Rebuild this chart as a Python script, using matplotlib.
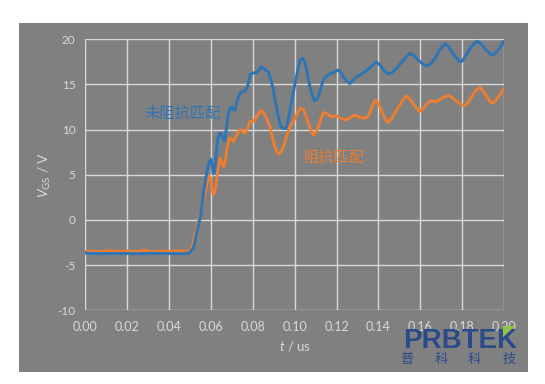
import matplotlib
matplotlib.use("Agg")
import matplotlib.pyplot as plt
from matplotlib.patches import Rectangle, Polygon

plt.rcParams['font.family'] = ['Lato', 'Noto Sans CJK SC', 'DejaVu Sans']
plt.rcParams['mathtext.fontset'] = 'custom'
plt.rcParams['mathtext.rm'] = 'Lato'
plt.rcParams['mathtext.it'] = 'Lato:italic'
plt.rcParams['axes.unicode_minus'] = False

# unmatched (blue) waveform, t in us, V_GS in V
t_blue = [0.0, 0.008, 0.016, 0.024, 0.032, 0.040, 0.046, 0.0495, 0.0505, 0.0516,
          0.0524, 0.0535, 0.0548, 0.0559, 0.0568, 0.058, 0.0592, 0.0600, 0.0606, 0.0611,
          0.0617, 0.0625, 0.0633, 0.0643, 0.0652, 0.0660, 0.0667, 0.0676, 0.0684, 0.0691,
          0.0700, 0.0707, 0.0715, 0.0725, 0.0739, 0.0750, 0.0763, 0.0775, 0.0790, 0.0805,
          0.0819, 0.0830, 0.0843, 0.0855, 0.0874, 0.0886, 0.0898, 0.0910, 0.0922, 0.0932,
          0.0940, 0.0959, 0.0968, 0.0978, 0.0990, 0.1002, 0.1014, 0.1026, 0.1039, 0.1047,
          0.1054, 0.1063, 0.1073, 0.1084, 0.1094, 0.1104, 0.1113, 0.1125, 0.1137, 0.1150,
          0.1169, 0.1185, 0.1208, 0.1220, 0.1232, 0.1248, 0.1264, 0.1280, 0.1296, 0.1315,
          0.1336, 0.1362, 0.1389, 0.1408, 0.1425, 0.1447, 0.1465, 0.1487, 0.1520, 0.1551,
          0.1570, 0.1591, 0.1610, 0.1631, 0.1650, 0.1670, 0.1695, 0.1718, 0.1735, 0.1750,
          0.1770, 0.1790, 0.1800, 0.1814, 0.1840, 0.1870, 0.1885, 0.1901, 0.1920, 0.1941,
          0.1955, 0.1973, 0.2000]
v_blue = [-3.68, -3.72, -3.70, -3.73, -3.69, -3.72, -3.74, -3.65, -3.45, -3.13,
          -2.4, -1.1, 0.18, 1.85, 3.5, 5.17, 6.45, 6.72, 6.0, 5.1,
          5.3, 7.3, 9.0, 9.6, 9.5, 8.8, 8.85, 10.5, 11.8, 12.36,
          12.5, 12.2, 12.17, 13.2, 14.0, 14.2, 14.25, 14.8, 16.16, 16.3,
          16.3, 16.6, 16.97, 16.7, 16.4, 15.6, 14.4, 12.8, 11.43, 10.5,
          10.15, 10.15, 11.0, 12.17, 13.7, 15.1, 16.5, 17.7, 17.9, 17.6,
          16.97, 15.9, 14.75, 13.8, 13.2, 13.3, 13.65, 14.6, 15.5, 15.9,
          16.2, 16.3, 16.6, 16.4, 15.86, 15.4, 15.1, 15.5, 15.86, 16.1,
          16.4, 16.9, 17.5, 17.15, 16.6, 16.16, 16.3, 16.8, 17.7, 18.45,
          18.2, 17.7, 17.3, 17.05, 17.3, 17.9, 18.9, 19.5, 19.2, 18.63,
          18.0, 17.5, 17.6, 18.07, 19.1, 19.8, 19.6, 19.2, 18.7, 18.26,
          18.4, 18.8, 19.75]

# matched (orange) waveform
t_orange = [0.0, 0.004, 0.008, 0.012, 0.016, 0.020, 0.024, 0.028, 0.032, 0.036,
            0.040, 0.044, 0.048, 0.0508, 0.0524, 0.0540, 0.0556, 0.0572, 0.0583, 0.0592,
            0.0598, 0.0604, 0.0611, 0.0617, 0.0624, 0.0633, 0.0643, 0.0650, 0.0659, 0.0666,
            0.0676, 0.0688, 0.0697, 0.0707, 0.0720, 0.0739, 0.0750, 0.0763, 0.0775, 0.0787,
            0.0806, 0.0820, 0.0838, 0.0848, 0.0858, 0.0870, 0.0882, 0.0893, 0.0903, 0.0914,
            0.0925, 0.0936, 0.0946, 0.0956, 0.0965, 0.0980, 0.0994, 0.1010, 0.1026, 0.1042,
            0.1054, 0.1066, 0.1078, 0.1089, 0.1100, 0.1113, 0.1125, 0.1137, 0.1150, 0.1160,
            0.1175, 0.1190, 0.1201, 0.1225, 0.1249, 0.1268, 0.1288, 0.1310, 0.1336, 0.1355,
            0.1370, 0.1384, 0.1396, 0.1408, 0.1425, 0.1443, 0.1465, 0.1487, 0.1510, 0.1532,
            0.1545, 0.1559, 0.1578, 0.1596, 0.1620, 0.1647, 0.1665, 0.1679, 0.1705, 0.1734,
            0.1755, 0.1774, 0.1795, 0.1814, 0.1830, 0.1846, 0.1865, 0.1882, 0.1895, 0.1909,
            0.1925, 0.1941, 0.1957, 0.1973, 0.2000]
v_orange = [-3.50, -3.45, -3.52, -3.40, -3.50, -3.44, -3.52, -3.38, -3.50, -3.44,
            -3.52, -3.40, -3.48, -3.3, -1.66, -0.2, 1.3, 2.95, 4.24, 4.85,
            4.6, 3.6, 2.8, 3.0, 3.87, 5.6, 6.83, 6.5, 5.9, 6.1,
            7.8, 9.04, 9.0, 8.66, 9.3, 10.04, 9.8, 9.6, 10.2, 10.88,
            10.99, 11.5, 12.1, 12.0, 11.6, 11.0, 10.33, 9.3, 8.3, 7.6,
            7.3, 7.6, 8.1, 8.8, 9.6, 10.4, 10.88, 11.7, 12.36, 12.25,
            11.5, 10.7, 9.9, 9.4, 9.7, 10.3, 11.2, 11.9, 11.8, 11.7,
            11.4, 11.5, 11.5, 11.2, 11.07, 11.4, 11.6, 11.35, 11.25, 11.6,
            12.6, 13.28, 13.0, 12.53, 11.5, 10.77, 11.3, 12.17, 13.0, 13.72,
            13.5, 13.1, 12.5, 11.99, 12.5, 13.2, 13.15, 13.1, 13.5, 13.83,
            13.5, 13.1, 12.8, 12.62, 13.1, 13.65, 14.3, 14.7, 14.4, 14.0,
            13.4, 12.9, 13.1, 13.65, 14.57]

x_ticks = [0.00, 0.02, 0.04, 0.06, 0.08, 0.10, 0.12, 0.14, 0.16, 0.18, 0.20]
y_ticks = [-10, -5, 0, 5, 10, 15, 20]

blue = '#2e75b6'
orange = '#ed7d31'
bg = '#808080'
light = '#d9d9d9'
logo_blue = '#2b4a8a'

W, H = 545, 384
fig = plt.figure(figsize=(W / 100, H / 100), dpi=100)
fig.patch.set_facecolor('white')
fig.patches.append(Rectangle((19 / W, 12 / H), 509 / W, 349 / H,
                             transform=fig.transFigure, facecolor=bg,
                             edgecolor='none', zorder=-5))

ax = fig.add_axes([85.3 / W, 73.7 / H, 418.7 / W, 271 / H])
ax.set_facecolor(bg)
for s in ax.spines.values():
    s.set_visible(False)

ax.plot(t_orange, v_orange, color=orange, lw=2.1, zorder=3)
ax.plot(t_blue, v_blue, color=blue, lw=2.1, zorder=4)

ax.set_xlim(0, 0.2)
ax.set_ylim(-10, 20)
ax.set_xticks(x_ticks)
ax.set_xticklabels([f'{x:.2f}' for x in x_ticks])
ax.set_yticks(y_ticks)
ax.grid(True, color=light, lw=1.0, zorder=1)
ax.set_axisbelow(True)
ax.tick_params(axis='both', length=0, colors=light)
ax.tick_params(axis='x', labelsize=9, pad=8)
ax.tick_params(axis='y', labelsize=8.5, pad=7)

ax.set_xlabel('$t$ / us', color=light, fontsize=9.5)
ax.xaxis.set_label_coords(0.5, -0.105)
ax.set_ylabel(r'$V_{\mathrm{GS}}$ / V', color=light, fontsize=10)
ax.yaxis.set_label_coords(-0.077, 0.5)

ax.text(0.0467, 11.84, '未阻抗匹配', color=blue, fontsize=11,
        family=['Noto Sans CJK SC'], ha='center', va='center', zorder=5)
ax.text(0.119, 6.9, '阻抗匹配', color=orange, fontsize=11,
        family=['Noto Sans CJK SC'], ha='center', va='center', zorder=5)

# logo in the lower right corner
fig.text(403 / W, 1 - 348 / H, 'PRBTEK', color=logo_blue, fontsize=20,
         fontweight='bold', family=['Liberation Sans'], ha='left',
         va='baseline', zorder=10)
fig.patches.append(Polygon([(502.7 / W, 1 - 326 / H), (515 / W, 1 - 326 / H),
                            (503.3 / W, 1 - 336.7 / H)], closed=True,
                           transform=fig.transFigure, facecolor='#8dc63f',
                           edgecolor='none', zorder=11))
for cx, ch in zip([407, 441, 474, 509], '普科科技'):
    fig.text(cx / W, 1 - 359 / H, ch, color=logo_blue, fontsize=9.5,
             family=['Noto Sans CJK SC'], ha='center', va='center', zorder=10)

fig.savefig('out.png', dpi=100)
